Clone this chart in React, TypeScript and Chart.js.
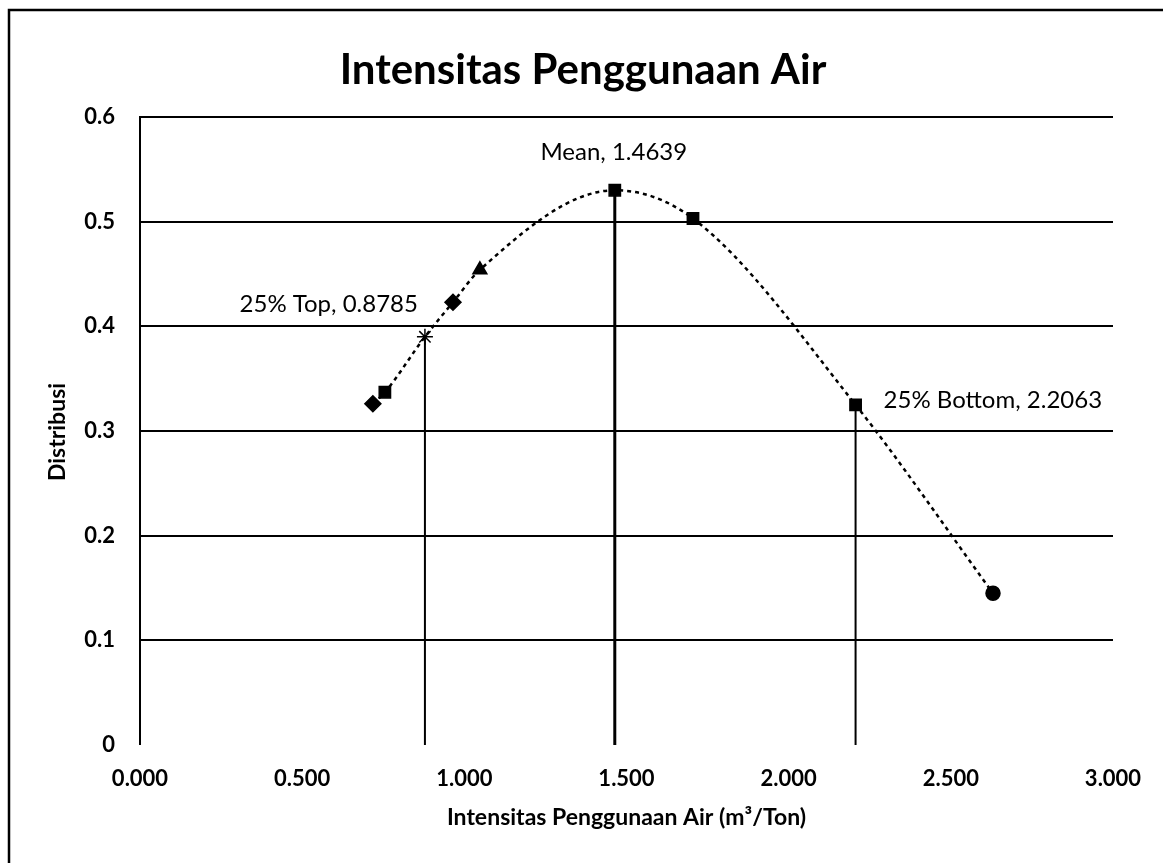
import React, { useEffect, useRef } from "react";
import { Chart, registerables } from "chart.js";

Chart.register(...registerables);

// ---- data ----
const curveX = [0.718, 0.755, 0.8785, 0.965, 1.048, 1.4639, 1.705, 2.2063, 2.63];
const curveY = [0.326, 0.337, 0.39, 0.423, 0.454, 0.53, 0.503, 0.325, 0.145];
const markerStyles = ["rectRot", "rect", "star", "rectRot", "triangle", "rect", "rect", "rect", "circle"];

const refX = [0.8785, 1.4639, 2.2063];
const refY = [0.39, 0.53, 0.325];
const refLabels = ["25% Top, 0.8785", "Mean, 1.4639", "25% Bottom, 2.2063"];

const xTicks = [0, 0.5, 1, 1.5, 2, 2.5, 3];
const yTicks = [0, 0.1, 0.2, 0.3, 0.4, 0.5, 0.6];

const titleText = "Intensitas Penggunaan Air";
const xTitle = "Intensitas Penggunaan Air (m\u00B3/Ton)";
const yTitle = "Distribusi";

const FONT = "Lato, 'Open Sans', sans-serif";

export default function App() {
  const ref = useRef<HTMLCanvasElement | null>(null);

  useEffect(() => {
    const canvas = ref.current;
    if (!canvas) return;

    const textPlugin = {
      id: "textPlugin",
      afterDraw(chart: any) {
        const ctx = chart.ctx;
        const xs = chart.scales.x;
        const ys = chart.scales.y;
        const area = chart.chartArea;
        ctx.save();
        // outer border
        ctx.strokeStyle = "#000";
        ctx.lineWidth = 2.5;
        ctx.beginPath();
        ctx.moveTo(9, 870);
        ctx.lineTo(9, 10);
        ctx.lineTo(1170, 10);
        ctx.stroke();

        ctx.fillStyle = "#000";
        // title
        ctx.font = `bold 42px ${FONT}`;
        ctx.textAlign = "center";
        ctx.textBaseline = "alphabetic";
        ctx.fillText(titleText, 583, 84);

        // axis titles
        ctx.textBaseline = "middle";
        ctx.font = `bold 23px ${FONT}`;
        ctx.fillText(xTitle, (area.left + area.right) / 2, 818);
        ctx.save();
        ctx.translate(58, 432);
        ctx.rotate(-Math.PI / 2);
        ctx.fillText(yTitle, 0, 0);
        ctx.restore();

        // reference labels
        ctx.font = `24px ${FONT}`;
        ctx.textAlign = "right";
        ctx.fillText(refLabels[0], xs.getPixelForValue(refX[0]) - 7, ys.getPixelForValue(refY[0]) - 33);
        ctx.textAlign = "center";
        ctx.fillText(refLabels[1], xs.getPixelForValue(refX[1]) - 1, ys.getPixelForValue(refY[1]) - 38);
        ctx.textAlign = "left";
        ctx.fillText(refLabels[2], xs.getPixelForValue(refX[2]) + 28, ys.getPixelForValue(refY[2]) - 5);
        ctx.restore();
      },
    };

    const vertDatasets = refX.map((x, i) => ({
      type: "line" as const,
      data: [
        { x, y: 0 },
        { x, y: refY[i] },
      ],
      borderColor: "#000",
      borderWidth: i === 1 ? 3 : 2,
      pointRadius: 0,
      fill: false,
      tension: 0,
    }));

    const chart = new Chart(canvas, {
      type: "scatter",
      data: {
        datasets: [
          {
            type: "line",
            data: curveX.map((x, i) => ({ x, y: curveY[i] })),
            borderColor: "#000",
            borderWidth: 2.5,
            borderDash: [4, 4],
            cubicInterpolationMode: "monotone",
            pointStyle: markerStyles as any,
            pointRadius: markerStyles.map((s) => (s === "circle" ? 7 : 8)),
            pointBackgroundColor: "#000",
            pointBorderColor: "#000",
            pointBorderWidth: 1.5,
            fill: false,
          } as any,
          ...vertDatasets,
        ],
      },
      options: {
        animation: false,
        responsive: false,
        events: [],
        layout: { padding: { left: 0, right: 50, top: 117, bottom: 0 } },
        plugins: {
          legend: { display: false },
          tooltip: { enabled: false },
          title: { display: false },
        },
        scales: {
          x: {
            type: "linear",
            min: 0,
            max: 3,
            afterBuildTicks: (s: any) => {
              s.ticks = xTicks.map((v) => ({ value: v }));
            },
            afterFit: (s: any) => {
              s.height = 118;
            },
            ticks: {
              callback: (v: any) => Number(v).toFixed(3),
              font: { family: FONT, size: 22, weight: "bold" },
              color: "#000",
              padding: 21,
              maxRotation: 0,
            },
            grid: { display: false, drawTicks: false },
            border: { display: false },
          },
          y: {
            type: "linear",
            min: 0,
            max: 0.6,
            afterBuildTicks: (s: any) => {
              s.ticks = yTicks.map((v) => ({ value: v }));
            },
            afterFit: (s: any) => {
              s.width = 140;
            },
            ticks: {
              callback: (v: any) => (Number(v) === 0 ? "0" : Number(v).toFixed(1)),
              font: { family: FONT, size: 22, weight: "bold" },
              color: "#000",
              padding: 25,
            },
            grid: {
              color: "#000",
              lineWidth: (c: any) => (c.tick && c.tick.value === 0 ? 0 : 2),
              drawTicks: false,
            },
            border: { display: true, color: "#000", width: 2 },
          },
        },
      },
      plugins: [textPlugin],
    } as any);

    return () => chart.destroy();
  }, []);

  return (
    <div style={{ position: "absolute", left: 0, top: 0, width: 1163, height: 863, background: "#fff" }}>
      <canvas ref={ref} width={1163} height={863} style={{ width: 1163, height: 863, display: "block" }} />
    </div>
  );
}
